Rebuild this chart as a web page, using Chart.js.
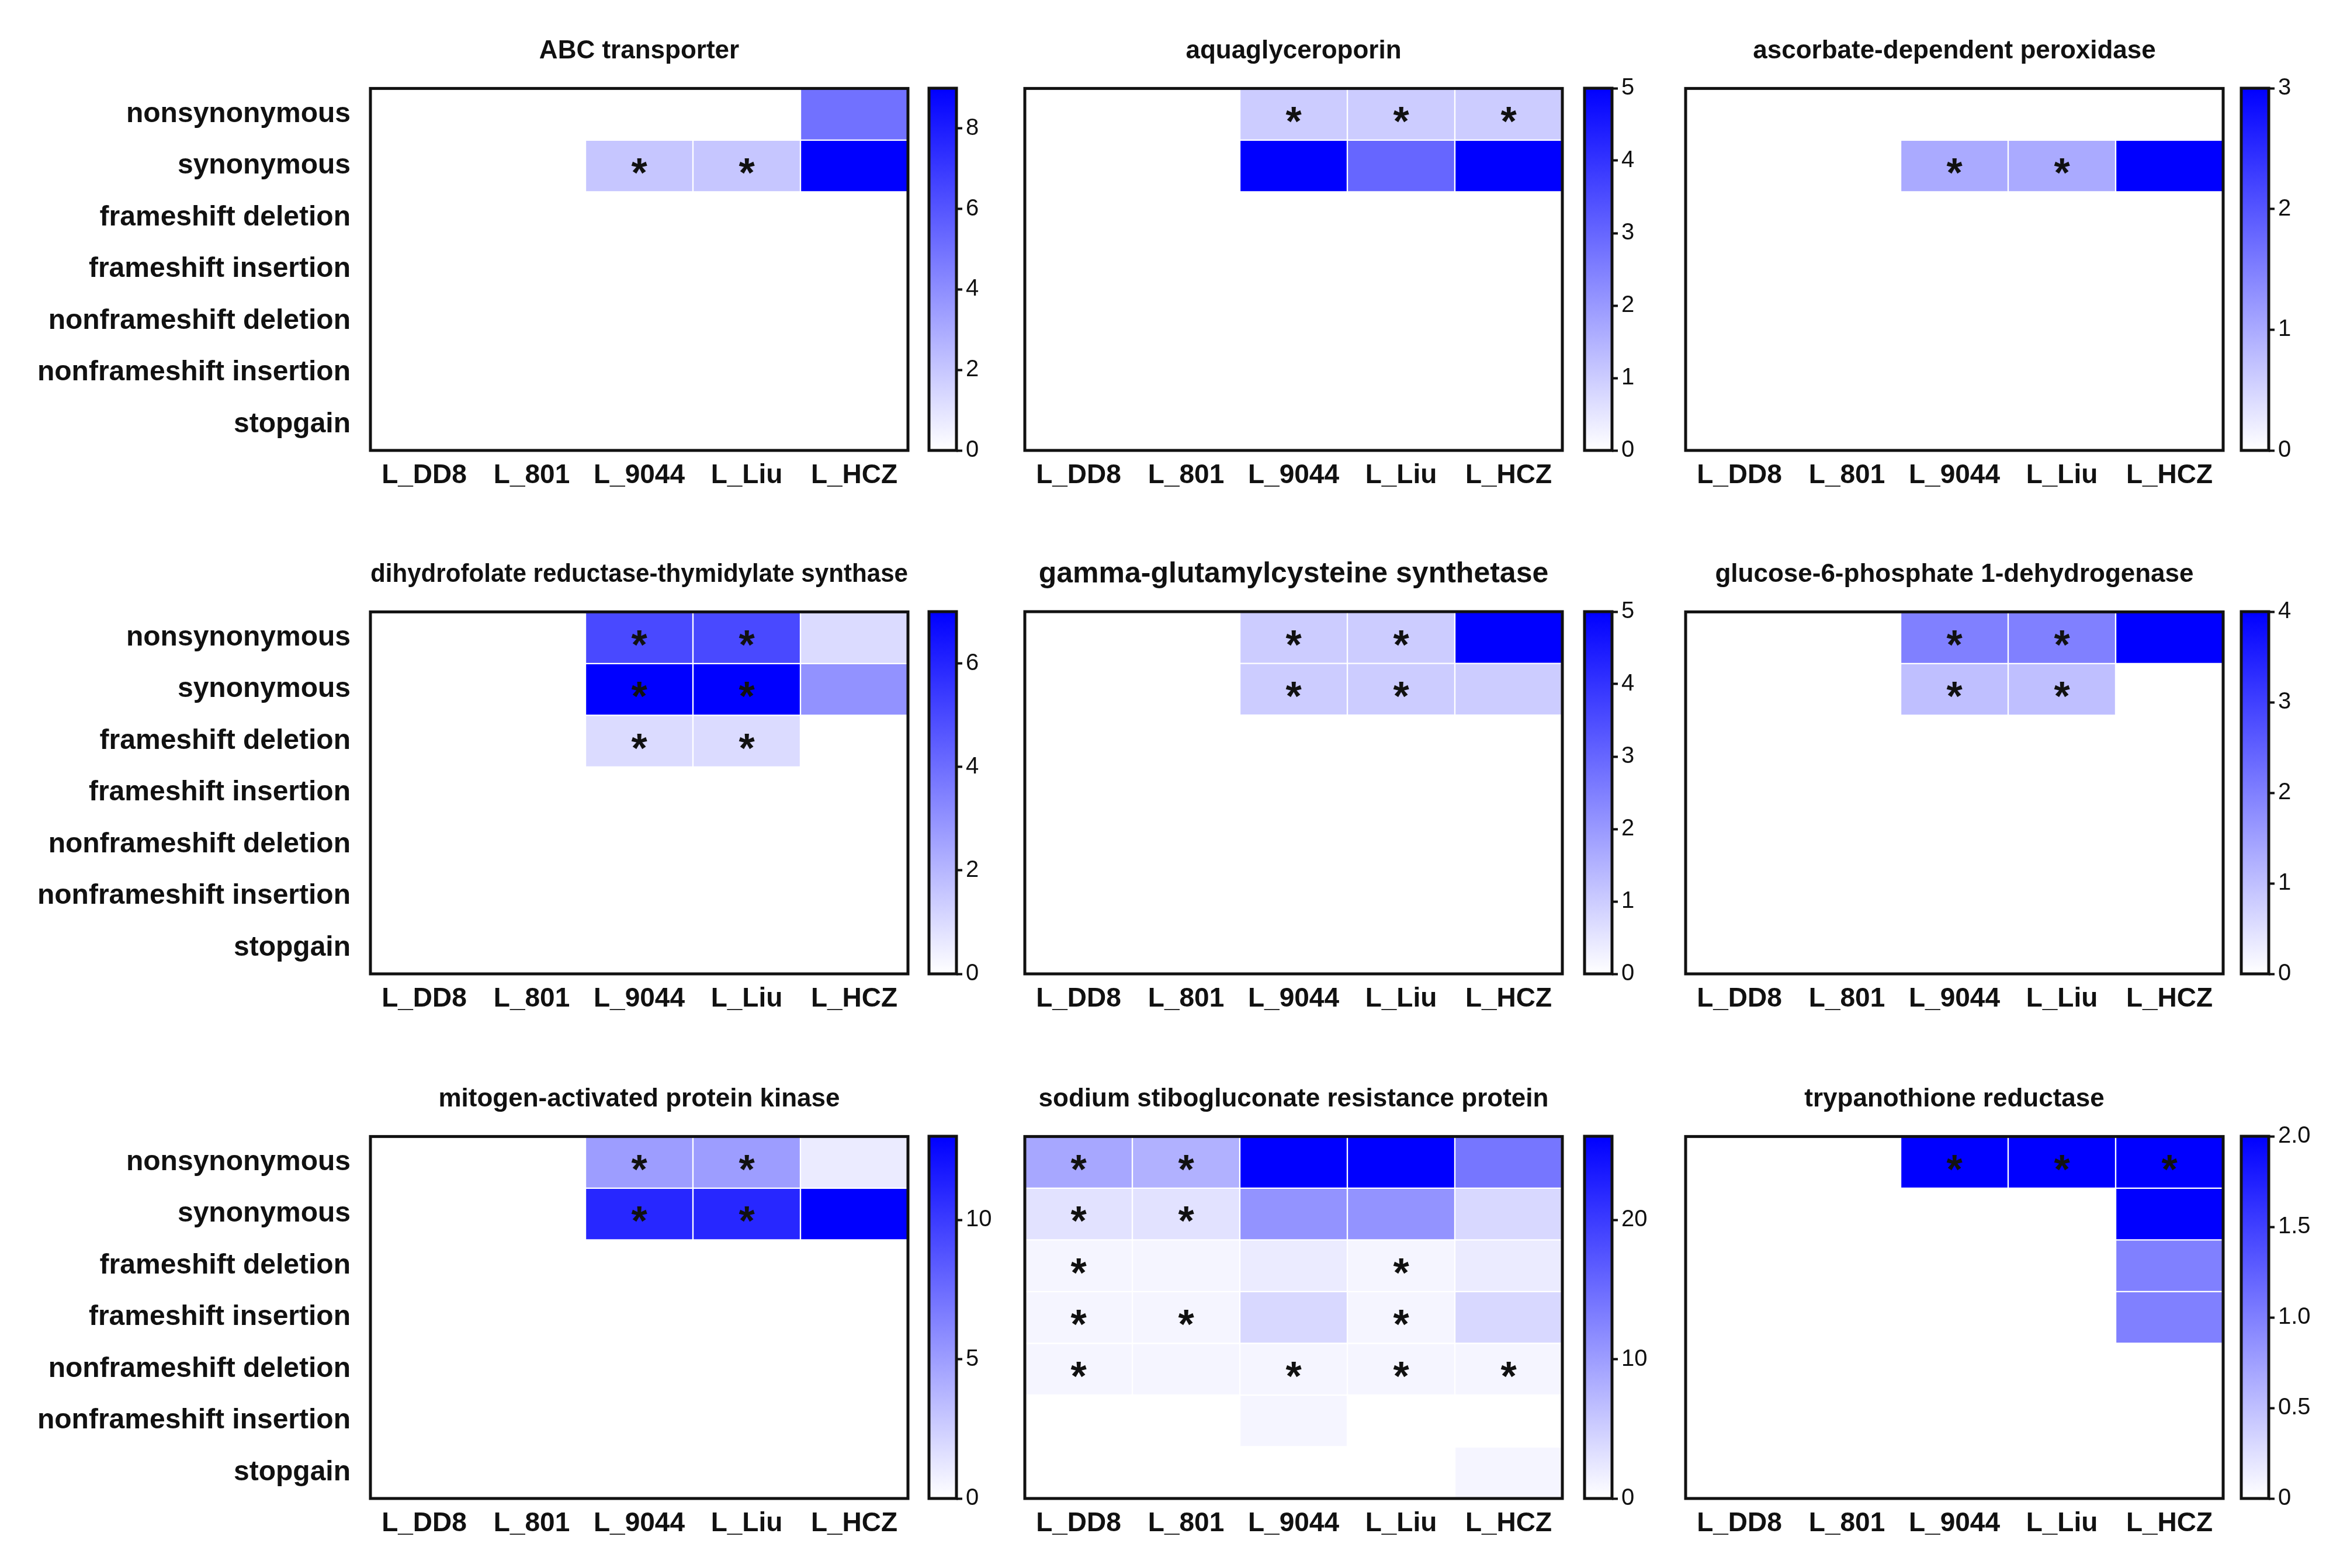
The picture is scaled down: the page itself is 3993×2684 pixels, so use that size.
<!DOCTYPE html>
<html>
<head>
<meta charset="utf-8">
<title>Mutation heatmaps</title>
<script src="https://cdn.jsdelivr.net/npm/chart.js@4.4.0/dist/chart.umd.min.js"></script>
<style>
    html, body { margin: 0; padding: 0; background: #ffffff; }
    body { width: 3993px; height: 2684px; position: relative; overflow: hidden; }
    canvas { position: absolute; }
</style>
</head>
<body>
<script>
// Mutation heatmaps - one panel per gene, counts per strain

const strains = ['L_DD8', 'L_801', 'L_9044', 'L_Liu', 'L_HCZ'];
const mutationTypes = ['nonsynonymous', 'synonymous', 'frameshift deletion', 'frameshift insertion',
    'nonframeshift deletion', 'nonframeshift insertion', 'stopgain'];

// rows follow mutationTypes, columns follow strains
const abcTransporter = [
    [0, 0, 0, 0, 5], [0, 0, 2, 2, 9], [0, 0, 0, 0, 0], [0, 0, 0, 0, 0],
    [0, 0, 0, 0, 0], [0, 0, 0, 0, 0], [0, 0, 0, 0, 0]
];
const aquaglyceroporin = [
    [0, 0, 1, 1, 1], [0, 0, 5, 3, 5], [0, 0, 0, 0, 0], [0, 0, 0, 0, 0],
    [0, 0, 0, 0, 0], [0, 0, 0, 0, 0], [0, 0, 0, 0, 0]
];
const ascorbatePeroxidase = [
    [0, 0, 0, 0, 0], [0, 0, 1, 1, 3], [0, 0, 0, 0, 0], [0, 0, 0, 0, 0],
    [0, 0, 0, 0, 0], [0, 0, 0, 0, 0], [0, 0, 0, 0, 0]
];
const dhfrTs = [
    [0, 0, 5, 5, 1], [0, 0, 7, 7, 3], [0, 0, 1, 1, 0], [0, 0, 0, 0, 0],
    [0, 0, 0, 0, 0], [0, 0, 0, 0, 0], [0, 0, 0, 0, 0]
];
const gammaGcs = [
    [0, 0, 1, 1, 5], [0, 0, 1, 1, 1], [0, 0, 0, 0, 0], [0, 0, 0, 0, 0],
    [0, 0, 0, 0, 0], [0, 0, 0, 0, 0], [0, 0, 0, 0, 0]
];
const g6pd = [
    [0, 0, 2, 2, 4], [0, 0, 1, 1, 0], [0, 0, 0, 0, 0], [0, 0, 0, 0, 0],
    [0, 0, 0, 0, 0], [0, 0, 0, 0, 0], [0, 0, 0, 0, 0]
];
const mapk = [
    [0, 0, 5, 5, 1], [0, 0, 11, 11, 13], [0, 0, 0, 0, 0], [0, 0, 0, 0, 0],
    [0, 0, 0, 0, 0], [0, 0, 0, 0, 0], [0, 0, 0, 0, 0]
];
const ssgResistance = [
    [9, 8, 26, 26, 14], [3, 3, 11, 11, 4], [1, 1, 2, 1, 2], [1, 1, 4, 1, 4],
    [1, 1, 1, 1, 1], [0, 0, 1, 0, 0], [0, 0, 0, 0, 1]
];
const trypanothione = [
    [0, 0, 2, 2, 2], [0, 0, 0, 0, 2], [0, 0, 0, 0, 1], [0, 0, 0, 0, 1],
    [0, 0, 0, 0, 0], [0, 0, 0, 0, 0], [0, 0, 0, 0, 0]
];

// significant cells, [row, column]
const abcStars = [[1, 2], [1, 3]];
const aquaStars = [[0, 2], [0, 3], [0, 4]];
const ascorbateStars = [[1, 2], [1, 3]];
const dhfrStars = [[0, 2], [0, 3], [1, 2], [1, 3], [2, 2], [2, 3]];
const gammaStars = [[0, 2], [0, 3], [1, 2], [1, 3]];
const g6pdStars = [[0, 2], [0, 3], [1, 2], [1, 3]];
const mapkStars = [[0, 2], [0, 3], [1, 2], [1, 3]];
const ssgStars = [[0, 0], [0, 1], [1, 0], [1, 1], [2, 0], [2, 3], [3, 0], [3, 1], [3, 3],
    [4, 0], [4, 2], [4, 3], [4, 4]];
const trypStars = [[0, 2], [0, 3], [0, 4]];

const titles = ['ABC transporter', 'aquaglyceroporin', 'ascorbate-dependent peroxidase',
    'dihydrofolate reductase-thymidylate synthase', 'gamma-glutamylcysteine synthetase',
    'glucose-6-phosphate 1-dehydrogenase', 'mitogen-activated protein kinase',
    'sodium stibogluconate resistance protein', 'trypanothione reductase'];
const scaleMax = [9, 5, 3, 7, 5, 4, 13, 26, 2];
const colorbarTicks = [
    [0, 2, 4, 6, 8], [0, 1, 2, 3, 4, 5], [0, 1, 2, 3], [0, 2, 4, 6], [0, 1, 2, 3, 4, 5],
    [0, 1, 2, 3, 4], [0, 5, 10], [0, 10, 20], [0, 0.5, 1, 1.5, 2]
];

const panelValues = [abcTransporter, aquaglyceroporin, ascorbatePeroxidase, dhfrTs, gammaGcs,
    g6pd, mapk, ssgResistance, trypanothione];
const panelStars = [abcStars, aquaStars, ascorbateStars, dhfrStars, gammaStars, g6pdStars,
    mapkStars, ssgStars, trypStars];

// Layout (page pixels)
const boxLeft = [634, 1754, 2885];
const boxTop = [151, 1047, 1945];
const boxW = 920;
const boxH = 620;
const cbLeft = [1590, 2712, 3836];
const cbW = 47;
const labelW = 634;
const xAxisH = 95;
const titleSize = [44, 44, 44, 44, 50, 44, 44, 44, 44];
const FONT = "'Liberation Sans', Arial, Helvetica, sans-serif";
const INK = '#111111';

Chart.defaults.font.family = FONT;
Chart.defaults.color = INK;

// white -> blue
function cellColour(t) {
    t = Math.max(0, Math.min(1, t));
    const c = Math.round(255 * (1 - t));
    return `rgb(${c}, ${c}, 255)`;
}

function addCanvas(left, top, width, height) {
    const canvas = document.createElement('canvas');
    canvas.width = width;
    canvas.height = height;
    canvas.style.left = left + 'px';
    canvas.style.top = top + 'px';
    canvas.style.width = width + 'px';
    canvas.style.height = height + 'px';
    document.body.appendChild(canvas);
    return canvas;
}

// Frame around the chart area
const frameBox = {
    id: 'frameBox',
    afterDraw(chart, args, opts) {
        const { ctx, chartArea } = chart;
        ctx.save();
        ctx.strokeStyle = INK;
        ctx.lineWidth = opts.width || 5;
        ctx.strokeRect(chartArea.left, chartArea.top, chartArea.width, chartArea.height);
        ctx.restore();
    }
};

// Asterisks on significant cells
const starMarks = {
    id: 'starMarks',
    afterDatasetsDraw(chart, args, opts) {
        const { ctx } = chart;
        const xs = chart.scales.x;
        const ys = chart.scales.y;
        ctx.save();
        ctx.fillStyle = INK;
        ctx.font = `bold 70px ${FONT}`;
        ctx.textAlign = 'center';
        ctx.textBaseline = 'middle';
        (opts.cells || []).forEach(([r, c]) => {
            ctx.fillText('*', xs.getPixelForValue(c), ys.getPixelForValue(r + 0.5) + 17);
        });
        ctx.restore();
    }
};

function makeHeatmap(i) {
    const col = i % 3;
    const row = Math.floor(i / 3);
    const values = panelValues[i];
    const max = scaleMax[i];
    const showRows = col === 0;
    const yW = showRows ? labelW : 0;
    const fs = titleSize[i];
    const padTop = 14;
    const padBottom = 64 - fs * 0.6;
    const titleH = padTop + fs * 1.2 + padBottom;
    const side = 6;

    const left = boxLeft[col] - yW - side;
    const top = boxTop[row] - titleH;
    const width = side + yW + boxW + side;
    const height = titleH + boxH + xAxisH;

    const datasets = mutationTypes.map((name, r) => ({
        label: name,
        data: strains.map((s, c) => values[r][c] > 0 ? [r, r + 1] : null),
        backgroundColor: strains.map((s, c) => cellColour(values[r][c] / max)),
        borderColor: '#ffffff',
        borderWidth: 1.5,
        borderSkipped: false,
        barPercentage: 1,
        categoryPercentage: 1,
        grouped: false
    }));

    new Chart(addCanvas(left, top, width, height), {
        type: 'bar',
        data: { labels: strains, datasets },
        options: {
            responsive: false,
            animation: false,
            devicePixelRatio: 1,
            layout: { padding: { left: side, right: side, top: 0, bottom: 0 } },
            plugins: {
                legend: { display: false },
                tooltip: { enabled: false },
                title: {
                    display: true,
                    text: titles[i],
                    fullSize: false,
                    color: INK,
                    font: { size: fs, weight: 'bold', lineHeight: 1.2 },
                    padding: { top: padTop, bottom: padBottom }
                },
                frameBox: { width: 5 },
                starMarks: { cells: panelStars[i] }
            },
            scales: {
                x: {
                    type: 'category',
                    offset: true,
                    grid: { display: false, drawTicks: false },
                    border: { display: false },
                    ticks: { font: { size: 46, weight: 'bold' }, color: INK, padding: 16, maxRotation: 0 },
                    afterFit: axis => { axis.height = xAxisH; }
                },
                y: {
                    type: 'linear',
                    display: showRows,
                    reverse: true,
                    min: 0,
                    max: mutationTypes.length,
                    grid: { display: false, drawTicks: false },
                    border: { display: false },
                    ticks: {
                        font: { size: 48, weight: 'bold' },
                        color: INK,
                        padding: 34,
                        autoSkip: false,
                        callback: (v, idx) => mutationTypes[idx]
                    },
                    afterBuildTicks: axis => {
                        axis.ticks = mutationTypes.map((n, r) => ({ value: r + 0.5 }));
                    },
                    afterFit: axis => { axis.width = yW; }
                }
            }
        },
        plugins: [frameBox, starMarks]
    });
}

function makeColorbar(i) {
    const col = i % 3;
    const row = Math.floor(i / 3);
    const max = scaleMax[i];
    const axisW = 120;
    const pad = 34;

    const canvas = addCanvas(cbLeft[col] - 4, boxTop[row] - pad, 4 + cbW + axisW, boxH + 2 * pad);
    new Chart(canvas, {
        type: 'bar',
        data: {
            labels: [''],
            datasets: [{
                data: [[0, max]],
                backgroundColor: ctx => {
                    const area = ctx.chart.chartArea;
                    if (!area) return '#8080ff';
                    const g = ctx.chart.ctx.createLinearGradient(0, area.bottom, 0, area.top);
                    g.addColorStop(0, cellColour(0));
                    g.addColorStop(1, cellColour(1));
                    return g;
                },
                borderWidth: 0,
                barPercentage: 1,
                categoryPercentage: 1
            }]
        },
        options: {
            responsive: false,
            animation: false,
            devicePixelRatio: 1,
            layout: { padding: { left: 4, top: pad, bottom: pad, right: 0 } },
            plugins: {
                legend: { display: false },
                tooltip: { enabled: false },
                frameBox: { width: 5 }
            },
            scales: {
                x: { display: false },
                y: {
                    position: 'right',
                    min: 0,
                    max: max,
                    grid: {
                        drawOnChartArea: false,
                        drawTicks: true,
                        tickLength: 10,
                        tickWidth: 4,
                        tickColor: INK
                    },
                    border: { display: false },
                    ticks: {
                        font: { size: 40 },
                        color: INK,
                        padding: 6,
                        callback: v => (max <= 2 && v !== 0) ? v.toFixed(1) : String(v)
                    },
                    afterBuildTicks: axis => {
                        axis.ticks = colorbarTicks[i].map(v => ({ value: v }));
                    },
                    afterFit: axis => { axis.width = axisW; }
                }
            }
        },
        plugins: [frameBox]
    });
}

for (let i = 0; i < 9; i++) {
    makeHeatmap(i);
    makeColorbar(i);
}
</script>
</body>
</html>
